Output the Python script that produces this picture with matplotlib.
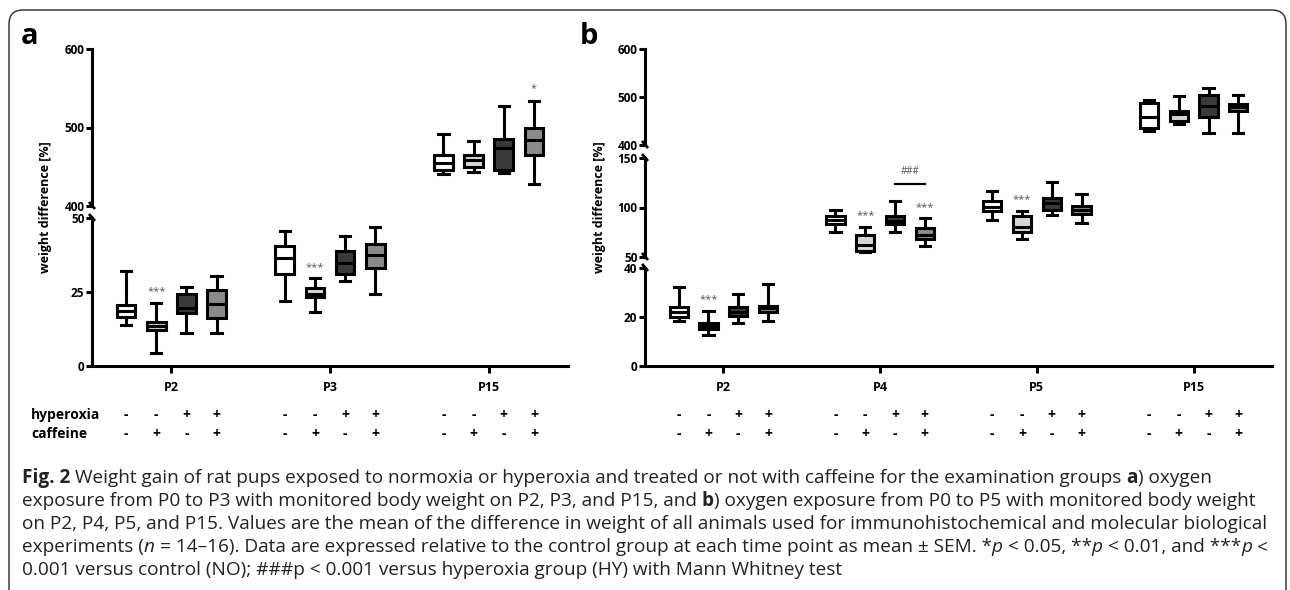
import matplotlib
matplotlib.use("Agg")
import matplotlib.pyplot as plt
from matplotlib import font_manager
from matplotlib.font_manager import FontProperties
from matplotlib.patches import FancyBboxPatch
from matplotlib.lines import Line2D
from matplotlib.transforms import IdentityTransform, blended_transform_factory

W, H = 1290, 590

# ---------------- data ----------------
treat_hyperoxia = ['-', '-', '+', '+']
treat_caffeine = ['-', '+', '-', '+']
box_colors = ['#ffffff', '#d6d6d6', '#3a3a3a', '#8a8a8a']

a_days = ['P2', 'P3', 'P15']
a_lo = [[13.7, 4.5, 11.3, 11.0], [22.0, 18.3, 28.7, 24.3], [441.2, 443.7, 442.5, 428.4]]
a_q1 = [[16.7, 12.0, 17.8, 16.3], [31.0, 23.3, 31.1, 33.0], [446.3, 449.7, 445.5, 465.0]]
a_med = [[18.6, 13.5, 19.6, 21.0], [36.4, 24.4, 34.9, 37.5], [454.4, 459.0, 474.0, 484.0]]
a_q3 = [[20.6, 15.0, 24.2, 25.7], [40.5, 26.2, 39.0, 41.1], [465.4, 465.0, 485.4, 499.7]]
a_hi = [[32.1, 21.2, 26.8, 30.4], [45.6, 29.7, 44.0, 47.1], [491.7, 482.8, 527.8, 533.8]]
a_sig_group = [0, 1, 2]
a_sig_box = [1, 1, 3]
a_sig_text = ['***', '***', '*']
a_sig_y = [25.1, 33.2, 549.0]

b_days = ['P2', 'P4', 'P5', 'P15']
b_lo = [[18.4, 12.7, 17.7, 18.5], [75.0, 55.1, 75.6, 61.4], [87.4, 67.9, 92.4, 84.6], [429.9, 443.8, 424.4, 424.4]]
b_q1 = [[20.1, 15.0, 20.4, 21.9], [83.0, 56.4, 83.3, 67.9], [96.8, 75.6, 97.5, 93.1], [434.7, 450.7, 459.0, 471.5]]
b_med = [[21.9, 16.2, 22.2, 23.5], [87.1, 61.8, 86.7, 71.9], [100.8, 80.0, 104.8, 97.5], [459.0, 465.3, 481.3, 478.5]]
b_q3 = [[24.0, 17.4, 24.2, 24.6], [91.4, 71.9, 91.7, 79.0], [106.6, 91.4, 109.9, 101.5], [486.8, 471.5, 504.2, 485.4]]
b_hi = [[32.4, 22.3, 29.4, 33.3], [97.5, 80.0, 106.6, 89.1], [116.7, 96.8, 125.4, 113.3], [493.8, 502.7, 518.0, 504.2]]
b_sig_group = [0, 1, 1, 2]
b_sig_box = [1, 1, 3, 1]
b_sig_text = ['***', '***', '***', '***']
b_sig_y = [26.9, 91.7, 99.8, 107.6]
b_hash_group = 1
b_hash_boxes = [2, 3]
b_hash_line_y = 124.0
b_hash_text_y = 136.5

caption_lines = [
    [("Fig. 2", "b"), ("Weight gain of rat pups exposed to normoxia or hyperoxia and treated or not with caffeine for the examination groups", ""), ("a", "b"), (") oxygen", "j")],
    [("exposure from P0 to P3 with monitored body weight on P2, P3, and P15, and", ""), ("b", "b"), (") oxygen exposure from P0 to P5 with monitored body weight", "j")],
    [("on P2, P4, P5, and P15. Values are the mean of the difference in weight of all animals used for immunohistochemical and molecular biological", "")],
    [("experiments (", ""), ("n", "ij"), ("= 14–16). Data are expressed relative to the control group at each time point as mean ± SEM. *", ""),
     ("p", "ij"), ("< 0.05, **", ""), ("p", "ij"), ("< 0.01, and ***", ""), ("p", "ij"), ("<", "")],
    [("0.001 versus control (NO); ###p < 0.001 versus hyperoxia group (HY) with Mann Whitney test", "")],
]

# ---------------- style ----------------
plt.rcParams['font.family'] = ['Open Sans', 'DejaVu Sans']
plt.rcParams['font.weight'] = 'bold'
LW = 2.2
OFFS = [-0.285, -0.095, 0.095, 0.285]
BOXW = 0.117
CAPW = 0.065

fig = plt.figure(figsize=(W / 100, H / 100), dpi=100)


def px_axes(x0, x1, yt, yb):
    return fig.add_axes([x0 / W, 1 - yb / H, (x1 - x0) / W, (yb - yt) / H])


def fig_line(x0, y0, x1, y1, lw=1.6):
    fig.add_artist(Line2D([x0 / W, x1 / W], [1 - y0 / H, 1 - y1 / H], color='black',
                          lw=lw, transform=fig.transFigure, solid_capstyle='butt'))


def make_panel(x0, x1, segs, days, lo, q1, med, q3, hi, sig_g, sig_b, sig_t, sig_y):
    ncat = len(days)
    axes = []
    for i, (ymin, ymax, yt, yb, ticks) in enumerate(segs):
        ax = px_axes(x0, x1, yt, yb)
        ax.set_xlim(-0.5, ncat - 0.5)
        ax.set_ylim(ymin, ymax)
        ax.patch.set_alpha(0)
        for s in ['top', 'right']:
            ax.spines[s].set_visible(False)
        ax.spines['left'].set_linewidth(LW)
        ax.set_yticks(ticks)
        ax.set_yticklabels([str(t) for t in ticks])
        ax.tick_params(axis='y', length=4, width=LW, pad=1.5, labelsize=8.5)
        if i == len(segs) - 1:
            ax.spines['bottom'].set_linewidth(LW)
            ax.set_xticks(range(ncat))
            ax.set_xticklabels(days)
            ax.tick_params(axis='x', length=5, width=LW, pad=6, labelsize=9)
        else:
            ax.spines['bottom'].set_visible(False)
            ax.set_xticks([])
        axes.append(ax)
    # break marks
    for i in range(len(segs) - 1):
        for yy in (segs[i][3], segs[i + 1][2]):
            fig_line(x0 - 3, yy - 4, x0 + 3, yy + 3, lw=2.0)
    # boxes
    for g in range(ncat):
        seg = [k for k, s in enumerate(segs) if s[0] <= med[g][0] <= s[1]][0]
        ax = axes[seg]
        stats = [dict(whislo=lo[g][k], q1=q1[g][k], med=med[g][k], q3=q3[g][k], whishi=hi[g][k])
                 for k in range(4)]
        res = ax.bxp(stats, positions=[g + o for o in OFFS], widths=BOXW, capwidths=CAPW,
                     patch_artist=True, showfliers=False, manage_ticks=False,
                     boxprops=dict(linewidth=LW, edgecolor='black'),
                     whiskerprops=dict(linewidth=LW, color='black'),
                     capprops=dict(linewidth=LW, color='black'),
                     medianprops=dict(linewidth=LW, color='black'))
        for k, b in enumerate(res['boxes']):
            b.set_facecolor(box_colors[k])
    # significance
    for g, b, t, y in zip(sig_g, sig_b, sig_t, sig_y):
        seg = [k for k, s in enumerate(segs) if s[0] <= y <= s[1]][0]
        axes[seg].text(g + OFFS[b], y, t, ha='center', va='center', fontsize=8,
                       fontweight='normal', color='#555555')
    # sign rows
    tr = blended_transform_factory(axes[-1].transData, fig.transFigure)
    for g in range(ncat):
        for k in range(4):
            axes[-1].text(g + OFFS[k], 1 - 415 / H, treat_hyperoxia[k], transform=tr, ha='center',
                          va='center', fontsize=10, fontweight='bold')
            axes[-1].text(g + OFFS[k], 1 - 434 / H, treat_caffeine[k], transform=tr, ha='center',
                          va='center', fontsize=10, fontweight='bold')
    return axes


axes_a = make_panel(92, 568, [(400, 600, 49, 206, [400, 500, 600]), (0, 50, 218, 366, [0, 25, 50])],
                    a_days, a_lo, a_q1, a_med, a_q3, a_hi, a_sig_group, a_sig_box, a_sig_text, a_sig_y)
axes_b = make_panel(645, 1272, [(400, 600, 49, 145, [400, 500, 600]), (50, 150, 158, 257, [50, 100, 150]),
                                (0, 40, 268, 366, [0, 20, 40])],
                    b_days, b_lo, b_q1, b_med, b_q3, b_hi, b_sig_group, b_sig_box, b_sig_text, b_sig_y)

# ### bracket in panel b
axm = axes_b[1]
xa = b_hash_group + OFFS[b_hash_boxes[0]]
xb = b_hash_group + OFFS[b_hash_boxes[1]]
axm.plot([xa, xb], [b_hash_line_y, b_hash_line_y], color='black', lw=1.6, clip_on=False)
axm.text((xa + xb) / 2, b_hash_text_y, '###', ha='center', va='center', fontsize=7,
         fontweight='normal', color='#555555')

# y labels
fig.text(46 / W, 1 - 207 / H, 'weight difference [%]', rotation=90, ha='center', va='center',
         fontsize=9, fontweight='bold')
fig.text(599 / W, 1 - 207 / H, 'weight difference [%]', rotation=90, ha='center', va='center',
         fontsize=9, fontweight='bold')
# panel letters
fig.text(21 / W, 1 - 37 / H, 'a', ha='left', va='center', fontsize=21, fontweight='bold')
fig.text(580 / W, 1 - 37 / H, 'b', ha='left', va='center', fontsize=21, fontweight='bold')
# row labels
fig.text(31 / W, 1 - 415 / H, 'hyperoxia', ha='left', va='center', fontsize=10, fontweight='bold')
fig.text(31 / W, 1 - 434 / H, 'caffeine', ha='left', va='center', fontsize=10, fontweight='bold')

# frame
frame = FancyBboxPatch((9, -30), 1277, H - 10 + 30, boxstyle='round,pad=0,rounding_size=14',
                       transform=IdentityTransform(), facecolor='none', edgecolor='#3a3a3a', lw=1.1)
fig.add_artist(frame)

# caption
cap_family = 'Open Sans'
for cand in ['Liberation Sans Narrow', 'Open Sans']:
    try:
        font_manager.findfont(FontProperties(family=cand), fallback_to_default=False)
        cap_family = cand
        break
    except Exception:
        pass
renderer = fig.canvas.get_renderer()


def text_w(s, size, weight='normal', style='normal'):
    t = fig.text(0, 0, s, fontsize=size, family=[cap_family, 'DejaVu Sans'], weight=weight, style=style)
    w = t.get_window_extent(renderer).width
    t.remove()
    return w


base = 13.0
wref = text_w(caption_lines[2][0][0], base)
cap_size = min(base * 1242 / wref, 14)
space_w = text_w('x x', cap_size) - text_w('xx', cap_size)

y0 = 483
for li, line in enumerate(caption_lines):
    x = 22
    yb = y0 + li * 23
    for si, (txt, st) in enumerate(line):
        if si > 0 and 'j' not in st:
            x += space_w
        weight = 'bold' if 'b' in st else 'normal'
        style = 'italic' if 'i' in st else 'normal'
        t = fig.text(x / W, 1 - yb / H, txt, fontsize=cap_size, family=[cap_family, 'DejaVu Sans'],
                     weight=weight, style=style, ha='left', va='baseline', color='#222222')
        x += t.get_window_extent(renderer).width

fig.savefig('out.png', dpi=100)
